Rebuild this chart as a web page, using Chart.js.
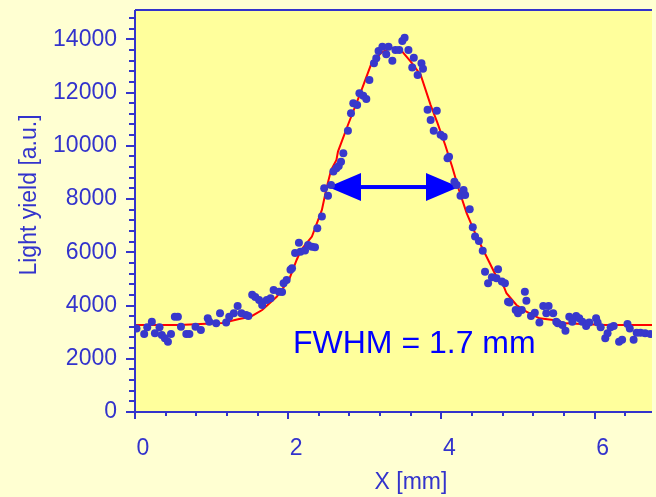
<!DOCTYPE html>
<html>
<head>
<meta charset="utf-8">
<script src="https://cdn.jsdelivr.net/npm/chart.js@4.4.1/dist/chart.umd.min.js"></script>
<style>
  html, body { margin: 0; padding: 0; background: #ffffd2; }
  #wrap { width: 656px; height: 497px; }
</style>
</head>
<body>
<div id="wrap"><canvas id="lyChart" width="656" height="497"></canvas></div>
<script>
// measured points (x in mm, light yield in a.u.)
var measX = [0.02,0.12,0.16,0.22,0.26,0.32,0.35,0.39,0.43,0.47,0.52,0.56,0.60,0.67,0.71,0.79,0.86,0.95,0.97,1.06,
  1.11,1.19,1.23,1.29,1.34,1.39,1.45,1.48,1.53,1.57,1.62,1.66,1.72,1.77,1.81,1.88,1.92,1.94,1.98,2.03,
  2.05,2.09,2.14,2.16,2.22,2.26,2.31,2.35,2.38,2.44,2.47,2.52,2.56,2.59,2.63,2.66,2.69,2.72,2.78,2.82,
  2.85,2.90,2.93,2.98,3.02,3.06,3.12,3.15,3.18,3.23,3.28,3.31,3.36,3.40,3.45,3.49,3.52,3.57,3.62,3.64,
  3.69,3.74,3.76,3.82,3.86,3.90,3.94,3.99,4.03,4.08,4.10,4.17,4.20,4.25,4.29,4.31,4.37,4.41,4.44,4.49,
  4.54,4.57,4.61,4.66,4.72,4.74,4.79,4.83,4.87,4.89,4.97,5.00,5.05,5.09,5.11,5.17,5.22,5.28,5.33,5.37,
  5.40,5.46,5.50,5.52,5.58,5.62,5.67,5.71,5.76,5.80,5.84,5.89,5.93,6.02,6.04,6.08,6.14,6.17,6.21,6.25,
  6.32,6.36,6.43,6.46,6.51,6.55,6.60,6.66,6.73];
var measY = [3140,2930,3180,3390,2960,3180,2890,2770,2640,2930,3580,3580,3200,2930,2930,3200,3080,3520,3390,3330,
  3710,3360,3580,3710,3980,3710,3640,3610,4400,4320,4210,4020,4210,4270,4580,4520,4510,4840,4960,5340,
  5400,5970,6360,6020,6070,6270,6210,6190,6900,7340,8400,8120,8530,9030,9160,9240,9400,9720,10560,11220,
  11600,11530,11970,11880,11760,12470,13100,13290,13560,13720,13440,13720,13190,13600,13600,13940,14060,13600,12940,13310,
  12660,13100,12890,11350,10970,10560,11320,10410,10340,9530,9590,8650,8530,8120,8340,8150,7620,6940,6590,6420,
  6060,5270,4840,5060,5020,5360,4900,4840,4140,4110,3830,3710,3830,4520,4180,3610,3730,3360,3980,3710,
  3980,3710,3390,3330,3270,3050,3580,3390,3610,3520,3390,3230,3360,3520,3360,3180,2770,2960,3180,3230,
  2640,2710,3310,3140,2710,2980,2980,2960,2930];

// fitted curve (red)
var fitX = [0.00,0.58,1.14,1.36,1.51,1.66,1.85,2.01,2.11,2.17,2.31,2.44,2.50,2.56,2.63,2.65,2.78,2.95,3.08,3.21,
  3.34,3.47,3.60,3.73,3.86,3.95,4.05,4.14,4.23,4.33,4.46,4.59,4.72,4.79,4.85,4.98,5.11,5.28,5.46,5.63,
  5.84,6.14,6.75];
var fitY = [3270,3270,3340,3490,3580,3830,4330,4960,5710,6090,6590,7590,8400,9090,9470,9780,10780,12030,13040,13480,
  13690,13600,13160,12660,11530,10850,10030,9220,8340,7470,6590,5830,5080,4900,4460,4020,3770,3520,3460,3330,
  3310,3270,3270];

// axis labels
var xTickValues = [0, 2, 4, 6];
var yTickValues = [0, 2000, 4000, 6000, 8000, 10000, 12000, 14000];

// FWHM arrow and label
var fwhmX = [2.52, 4.23];
var fwhmY = 8450;
var fwhmText = "FWHM = 1.7 mm";

var xTitle = "X [mm]";
var yTitle = "Light yield [a.u.]";

var axisBlue = "#3333cc";
var fontName = "Liberation Sans, Arial, sans-serif";

function pairs(xs, ys) {
    return xs.map(function (x, i) { return { x: x, y: ys[i] }; });
}

var framePlugin = {
    id: "frame",
    beforeDraw: function (chart) {
        var c = chart.ctx, a = chart.chartArea;
        c.save();
        c.fillStyle = "#ffffd2";
        c.fillRect(0, 0, chart.width, chart.height);
        c.fillStyle = "#ffff9c";
        c.fillRect(a.left, a.top, a.right - a.left, a.bottom - a.top);
        c.restore();
    },
    beforeDatasetsDraw: function (chart) {
        var c = chart.ctx, xs = chart.scales.x, ys = chart.scales.y;
        var x1 = xs.getPixelForValue(fwhmX[0]), x2 = xs.getPixelForValue(fwhmX[1]);
        var yy = ys.getPixelForValue(fwhmY);
        var headL = 33, headH = 14;
        c.save();
        c.fillStyle = "#0000ff";
        c.fillRect(x1 + headL - 2, yy - 2, (x2 - x1) - 2 * headL + 4, 4);
        c.beginPath();
        c.moveTo(x1, yy); c.lineTo(x1 + headL, yy - headH); c.lineTo(x1 + headL, yy + headH); c.closePath();
        c.fill();
        c.beginPath();
        c.moveTo(x2, yy); c.lineTo(x2 - headL, yy - headH); c.lineTo(x2 - headL, yy + headH); c.closePath();
        c.fill();
        c.font = "32px " + fontName;
        c.textBaseline = "alphabetic";
        c.textAlign = "left";
        c.fillText(fwhmText, 293, 353);
        c.restore();
    },
    afterDraw: function (chart) {
        var c = chart.ctx, a = chart.chartArea, xs = chart.scales.x, ys = chart.scales.y;
        c.save();
        c.strokeStyle = axisBlue;
        c.lineWidth = 2;
        c.beginPath();
        c.moveTo(a.left, a.top); c.lineTo(a.right, a.top);
        c.moveTo(a.left, a.top); c.lineTo(a.left, a.bottom);
        c.moveTo(a.left, a.bottom); c.lineTo(a.right, a.bottom);
        c.stroke();
        // y ticks, minor every 400
        c.beginPath();
        for (var v = 0; v <= ys.max; v += 400) {
            var py = Math.round(ys.getPixelForValue(v));
            var len = (v % 2000 === 0) ? 9 : 6;
            c.moveTo(a.left - len, py); c.lineTo(a.left, py);
        }
        // x ticks, minor every 0.4
        for (var i = 0; i * 0.4 <= xs.max; i++) {
            var px = Math.round(xs.getPixelForValue(i * 0.4));
            var l2 = (i % 5 === 0) ? 7 : 4;
            c.moveTo(px, a.bottom); c.lineTo(px, a.bottom + l2);
        }
        c.stroke();
        // axis titles
        c.fillStyle = axisBlue;
        c.font = "23px " + fontName;
        c.textAlign = "center";
        c.textBaseline = "middle";
        c.fillText(xTitle, 411, 483);
        c.translate(30, 195);
        c.rotate(-Math.PI / 2);
        c.fillText(yTitle, 0, 0);
        c.restore();
    }
};

var ctx = document.getElementById("lyChart").getContext("2d");
var lyChart = new Chart(ctx, {
    type: "scatter",
    data: {
        datasets: [
            {
                label: "fit",
                data: pairs(fitX, fitY),
                showLine: true,
                borderColor: "#ff0000",
                borderWidth: 2,
                pointRadius: 0,
                tension: 0,
                order: 2
            },
            {
                label: "data",
                data: pairs(measX, measY),
                pointRadius: 4,
                pointBackgroundColor: "#3838cc",
                pointBorderWidth: 0,
                order: 1
            }
        ]
    },
    options: {
        responsive: false,
        animation: false,
        layout: { padding: { top: 10, left: 0, right: 0, bottom: 0 } },
        plugins: { legend: { display: false }, tooltip: { enabled: false } },
        scales: {
            x: {
                type: "linear",
                min: 0,
                max: 6.75,
                grid: { display: false },
                border: { display: false },
                afterBuildTicks: function (s) {
                    s.ticks = xTickValues.map(function (v) { return { value: v }; });
                },
                ticks: {
                    labelOffset: 8,
                    padding: 15,
                    color: axisBlue,
                    font: { family: fontName, size: 23 },
                    callback: function (v) { return String(v); }
                },
                afterFit: function (s) {
                    s.height = 85;
                    s.paddingLeft = 0; s.paddingRight = 0;
                }
            },
            y: {
                min: 0,
                max: 15100,
                grid: { display: false },
                border: { display: false },
                afterBuildTicks: function (s) {
                    s.ticks = yTickValues.map(function (v) { return { value: v }; });
                },
                ticks: {
                    padding: 10,
                    color: axisBlue,
                    font: { family: fontName, size: 23 },
                    callback: function (v) { return String(v); }
                },
                afterFit: function (s) {
                    s.width = 135;
                    s.paddingTop = 0; s.paddingBottom = 0;
                }
            }
        }
    },
    plugins: [framePlugin]
});
</script>
</body>
</html>
